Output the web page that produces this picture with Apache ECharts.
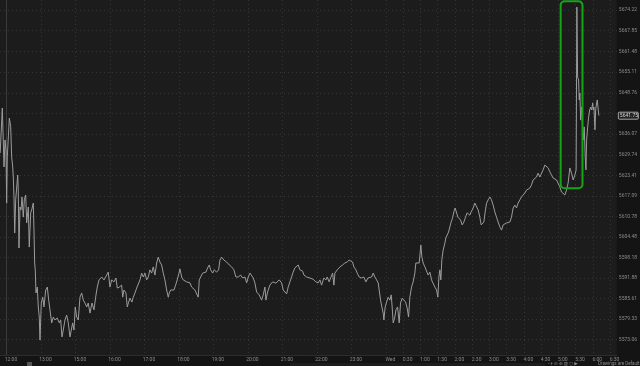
<!DOCTYPE html>
<html><head><meta charset="utf-8">
<script src="https://cdn.jsdelivr.net/npm/echarts@6.0.0/dist/echarts.min.js"></script>
<style>html,body{margin:0;padding:0;background:#141414}#c{width:640px;height:366px}</style>
</head><body><div id="c"></div>
<script>
// x = trading minutes after 12:00 (14:00-15:00 break removed), y = price
const timeTicks = [0,60,120,180,240,300,360,420,480,540,600,660,690,720,750,780,810,840,870,900,930,960,990,1020,1050];
const timeLabels = ['12:00','13:00','15:00','16:00','17:00','18:00','19:00','20:00','21:00','22:00','23:00','Wed','0:30','1:00','1:30','2:00','2:30','3:00','3:30','4:00','4:30','5:00','5:30','6:00','6:30'];
const priceTicks = [5674.22,5667.85,5661.48,5655.11,5648.76,5642.42,5636.07,5629.74,5623.41,5617.09,5610.78,5604.48,5598.18,5591.88,5585.61,5579.33,5573.06];
const priceLabels = ['5674.22','5667.85','5661.48','5655.11','5648.76','','5636.07','5629.74','5623.41','5617.09','5610.78','5604.48','5598.18','5591.88','5585.61','5579.33','5573.06'];
const lastPrice = 5641.75;
const boxTimes = [964, 1002];
const boxPrices = [5619.5, 5676.9];

const afternoon = [[-11,5630.3],[-7.3,5644.1],[-4.3,5626.0],[-2.6,5634.3],[-0.9,5631.2],[0.3,5614.9],[1.4,5629.1],[4.9,5641.0],[7.3,5638.4],[9.0,5629.1],[10.8,5626.0],[11.8,5622.9],[13.0,5616.8],[14.3,5605.7],[16.0,5615.9],[17.7,5615.4],[19.5,5623.5],[20.5,5618.9],[21.7,5601.1],[23.5,5613.7],[25.2,5612.8],[27.0,5616.8],[29.2,5610.6],[31.0,5615.9],[33.4,5617.4],[35.1,5608.8],[37.9,5613.7],[39.6,5601.4],[42.1,5611.9],[43.8,5612.8],[46.6,5614.9],[47.8,5606.6],[49.0,5596.5],[50.1,5594.3],[51.3,5587.3],[53.6,5589.1],[55.3,5583.0],[57.0,5579.9],[58.3,5572.8],[60.5,5584.2],[63.0,5586.0],[65.2,5583.0],[68.2,5588.2],[71.0,5589.1],[73.4,5585.1],[75.6,5582.1],[78.6,5578.1],[81.4,5579.9],[84.3,5579.0],[88.3,5579.6],[91.8,5578.1],[94.3,5579.0],[96.5,5573.8],[98.8,5575.9],[101.7,5579.0],[104.7,5580.5],[107.5,5578.1],[110.4,5573.8],[112.7,5573.5],[115.1,5578.1],[117.4,5575.9],[119.6,5583.0],[122.1,5579.9],[124.9,5579.0],[127.8,5586.0],[130.8,5587.3],[133.6,5585.1],[136.5,5584.2],[139.5,5583.0],[142.2,5584.2],[145.2,5581.1],[148.7,5584.2],[152.2,5582.1],[155.1,5586.0],[157.9,5589.1],[160.9,5591.3],[165.6,5592.2],[169.6,5591.3],[174.2,5592.8],[177.0,5593.7],[180.0,5589.1],[182.9,5591.3],[186.9,5590.7],[190.4,5591.9],[192.7,5588.8],[196.2,5589.1]];
const evening = [[200.3,5589.7],[202.1,5586.0],[204.3,5588.2],[207.8,5587.3],[210.1,5583.0],[212.5,5584.5],[214.8,5585.7],[218.2,5584.5],[220.5,5586.0],[223.5,5587.3],[226.4,5588.8],[229.2,5588.2],[232.2,5591.3],[235.1,5593.4],[237.9,5592.2],[240.9,5593.4],[243.8,5591.3],[246.6,5592.2],[249.5,5594.4],[252.5,5593.4],[255.3,5595.3],[258.2,5592.8],[261.2,5596.5],[264.0,5598.3],[266.9,5596.8],[269.9,5595.9],[272.7,5593.4],[275.6,5591.3],[278.6,5588.2],[281.4,5586.0],[283.1,5587.3],[285.6,5588.2],[288.3,5588.8],[291.3,5588.2],[294.2,5589.7],[297.0,5591.3],[300.0,5593.4],[301.7,5594.7],[304.7,5592.2],[307.5,5591.3],[310.4,5591.9],[313.4,5590.7],[316.2,5591.3],[319.1,5590.4],[322.1,5589.1],[324.8,5589.6],[327.8,5588.2],[330.8,5587.6],[333.5,5586.0],[335.3,5591.3],[337.7,5592.2],[341.2,5593.4],[344.0,5593.0],[346.9,5593.7],[349.9,5595.0],[352.7,5595.9],[355.1,5594.4],[358.6,5593.4],[361.4,5594.4],[365.5,5593.7],[369.0,5594.4],[371.3,5597.4],[374.2,5598.3],[378.2,5597.4],[382.9,5596.8],[387.5,5595.9],[391.6,5595.3],[395.6,5594.4],[399.1,5592.2],[403.1,5592.2],[407.3,5592.8],[410.8,5591.9],[414.8,5592.2],[417.8,5590.4],[420.5,5592.2],[423.5,5593.4]];
const night = [[429.2,5591.9],[432.1,5590.4],[435.1,5587.6],[439.6,5586.7],[443.8,5585.1],[446.6,5586.7],[449.6,5589.1],[451.3,5585.1],[454.2,5587.6],[458.2,5589.7],[462.9,5590.7],[468.6,5590.3],[474.4,5591.3],[478.6,5590.4],[481.4,5588.2],[484.3,5588.8],[487.3,5587.0],[490.0,5589.1],[493.0,5590.7],[495.9,5592.2],[498.7,5593.7],[501.7,5595.0],[504.7,5595.3],[507.4,5595.9],[510.4,5594.4],[515.1,5594.0],[517.4,5592.8],[522.1,5592.2],[527.8,5591.9],[533.5,5591.5],[538.2,5590.7],[542.2,5590.4],[545.2,5591.3],[548.1,5589.7],[552.1,5591.9],[555.6,5591.3],[557.9,5592.2],[561.3,5590.7],[563.8,5591.9],[567.3,5593.4],[569.5,5589.7],[571.3,5593.4],[575.3,5594.4],[580.0,5595.3],[584.6,5595.9],[588.6,5596.5],[592.6,5596.8],[596.1,5597.4],[599.1,5598.0],[602.0,5596.8],[604.3,5595.3],[607.8,5594.4],[610.1,5593.4],[613.5,5592.2],[617.7,5591.9],[621.7,5592.2],[625.2,5590.7],[628.7,5591.9],[632.1,5591.3]];
const earlyWed = [[635.1,5592.2],[637.9,5593.4],[640.8,5592.2],[643.8,5591.3],[646.6,5590.4],[648.3,5588.2],[650.7,5585.1],[653.0,5583.0],[655.3,5581.1],[656.5,5579.0],[658.7,5583.0],[661.2,5584.5],[664.0,5586.0],[666.9,5585.1],[669.2,5586.7],[670.9,5583.0],[672.7,5578.1],[675.6,5579.9],[677.4,5582.1],[680.3,5583.0],[683.1,5578.1],[685.5,5584.2],[688.3,5585.7],[691.1,5586.0],[694.2,5584.5],[697.0,5582.7],[699.4,5579.9],[701.7,5586.0],[704.6,5589.1],[707.4,5590.7],[710.4,5593.4],[712.1,5596.5],[715.1,5595.9],[717.9,5596.5],[720.8,5602.0],[722.6,5598.3],[724.8,5596.5],[727.8,5595.3],[730.7,5595.0],[733.5,5592.8],[736.5,5593.7],[739.4,5591.3],[742.2,5590.7],[745.2,5589.1],[748.1,5588.2],[750.4,5586.0],[752.2,5592.2],[753.9,5594.4],[755.6,5591.3],[757.3,5597.4],[759.6,5600.5],[762.6,5602.6],[764.3,5604.2],[766.6,5604.5],[769.0,5606.0],[771.3,5607.6],[773.5,5609.1],[775.9,5610.3],[778.2,5612.2],[780.5,5613.4],[782.9,5612.8],[785.2,5610.6],[787.5,5611.2],[789.9,5609.7],[792.7,5608.2],[795.7,5609.1],[798.5,5610.6],[801.3,5611.9],[803.7,5612.2],[806.0,5611.2],[808.3,5612.2],[811.8,5613.4],[814.7,5614.9],[817.7,5614.3],[820.5,5612.8],[823.4,5610.6],[825.7,5608.2],[828.1,5607.9],[830.4,5609.1],[832.7,5612.2],[835.1,5614.9],[837.9,5615.9],[840.8,5616.8]];
const lateWed = [[843.7,5615.9],[846.5,5614.3],[849.5,5612.2],[852.4,5610.6],[855.2,5609.1],[858.2,5607.6],[861.2,5606.6],[863.9,5608.2],[866.9,5607.6],[869.8,5608.8],[872.6,5608.2],[875.6,5609.1],[878.5,5610.6],[881.3,5613.4],[884.3,5614.3],[887.2,5613.4],[890.0,5614.9],[893.0,5615.9],[895.9,5616.8],[898.7,5616.5],[901.7,5618.0],[904.6,5618.9],[907.4,5618.3],[910.4,5619.5],[913.3,5620.5],[916.1,5622.0],[919.1,5621.7],[922.0,5622.9],[924.8,5624.1],[927.8,5622.9],[930.7,5622.6],[933.5,5625.1],[936.5,5626.6],[939.4,5626.0],[942.2,5625.7],[945.2,5624.5],[948.1,5623.5],[950.9,5622.6],[953.9,5622.9],[956.8,5622.0],[959.6,5621.4],[962.5,5619.9],[965.5,5618.3],[968.3,5618.0],[971.3,5617.4],[974.2,5618.9],[977.0,5621.1],[980.0,5625.7],[982.9,5624.1],[985.7,5622.0],[988.7,5623.5],[990.9,5625.1],[992.2,5675.1],[993.5,5653.6],[995.2,5652.7],[996.3,5646.6],[997.5,5648.7],[998.7,5640.4],[1000.5,5644.4],[1002.2,5638.3],[1003.3,5634.3],[1005.0,5638.3],[1006.7,5629.1],[1008.0,5625.1],[1009.2,5634.3],[1011.0,5638.3],[1012.7,5641.4],[1014.5,5643.5],[1016.2,5644.4],[1018.0,5643.5],[1019.7,5645.7],[1020.8,5643.5],[1021.9,5644.4],[1023.7,5637.4],[1024.9,5643.5],[1026.6,5645.7],[1027.7,5646.6],[1029.4,5643.5],[1030.5,5641.8]];

const series = afternoon.concat(evening, night, earlyWed, lateWed);
const FONT = 'Roboto, "DejaVu Sans", sans-serif';

const chart = echarts.init(document.getElementById('c'), null, {renderer: 'canvas'});
const option = {
  backgroundColor: '#141414',
  animation: false,
  grid: {left: 0, right: 23, top: 0, bottom: 11, show: true, backgroundColor: '#1c1c1c', borderWidth: 0},
  xAxis: {
    type: 'value', min: -11.3, max: 1061.7,
    axisLine: {show: true, lineStyle: {color: '#2c2c2c', width: 1}},
    axisTick: {show: false, customValues: timeTicks},
    splitLine: {show: true, lineStyle: {color: '#343434', width: 1, type: [1, 3]}},
    axisLabel: {
      customValues: timeTicks, margin: 2, fontSize: 5, color: '#8c8c8c', fontFamily: FONT,
      padding: [0, 0, 0, 9],
      formatter: v => { const i = timeTicks.indexOf(v); return i >= 0 ? timeLabels[i] : ''; }
    }
  },
  yAxis: {
    type: 'value', position: 'right', min: 5568.24, max: 5677.29,
    axisLine: {show: true, lineStyle: {color: '#3c3c3c', width: 1}},
    axisTick: {show: false, customValues: priceTicks},
    splitLine: {show: true, lineStyle: {color: '#343434', width: 1, type: [1, 3]}},
    axisLabel: {
      customValues: priceTicks, margin: 2, fontSize: 5, color: '#8c8c8c', fontFamily: FONT,
      formatter: v => { const i = priceTicks.indexOf(v); return i >= 0 ? priceLabels[i] : ''; }
    }
  },
  series: [{
    type: 'line', data: series, showSymbol: false, symbol: 'none',
    lineStyle: {color: '#9c9c9c', width: 1}, z: 5
  }]
};
chart.setOption(option);

const pTop = chart.convertToPixel({gridIndex: 0}, [boxTimes[0], boxPrices[1]]);
const pBot = chart.convertToPixel({gridIndex: 0}, [boxTimes[1], boxPrices[0]]);
const pLast = chart.convertToPixel({gridIndex: 0}, [1061.7, lastPrice]);
chart.setOption({
  graphic: [
    {id: 'box', type: 'rect', z: 100,
     shape: {x: pTop[0], y: pTop[1], width: pBot[0] - pTop[0], height: pBot[1] - pTop[1], r: 4},
     style: {fill: 'none', stroke: '#17a317', lineWidth: 2}},
    {id: 'lastbox', type: 'rect', z: 100,
     shape: {x: pLast[0] + 1.5, y: pLast[1] - 3.5, width: 20, height: 7, r: 1},
     style: {fill: '#222', stroke: '#c8c8c8', lineWidth: 0.8}},
    {id: 'lasttxt', type: 'text', z: 101, x: pLast[0] + 3, y: pLast[1],
     style: {text: lastPrice.toFixed(2), fontSize: 5, fill: '#d4d4d4', fontFamily: FONT, verticalAlign: 'middle', align: 'left'}},
    {id: 'scroll', type: 'rect', z: 1, shape: {x: 290, y: 363, width: 255, height: 3}, style: {fill: '#1d1d1d'}},
    {id: 'lefticon', type: 'rect', z: 2, shape: {x: 27, y: 362, width: 5, height: 4}, style: {fill: '#555'}},
    {id: 'icons', type: 'text', z: 2, left: 548, top: 361,
     style: {text: '- + ⊖ ⊕ ▥ ○ ▶', fontSize: 4.5, fill: '#8a8a8a', fontFamily: FONT}},
    {id: 'draw', type: 'text', z: 2, left: 598, top: 361,
     style: {text: 'Drawings are Default', fontSize: 4.5, fill: '#8a8a8a', fontFamily: FONT}}
  ]
});
</script>
</body></html>
